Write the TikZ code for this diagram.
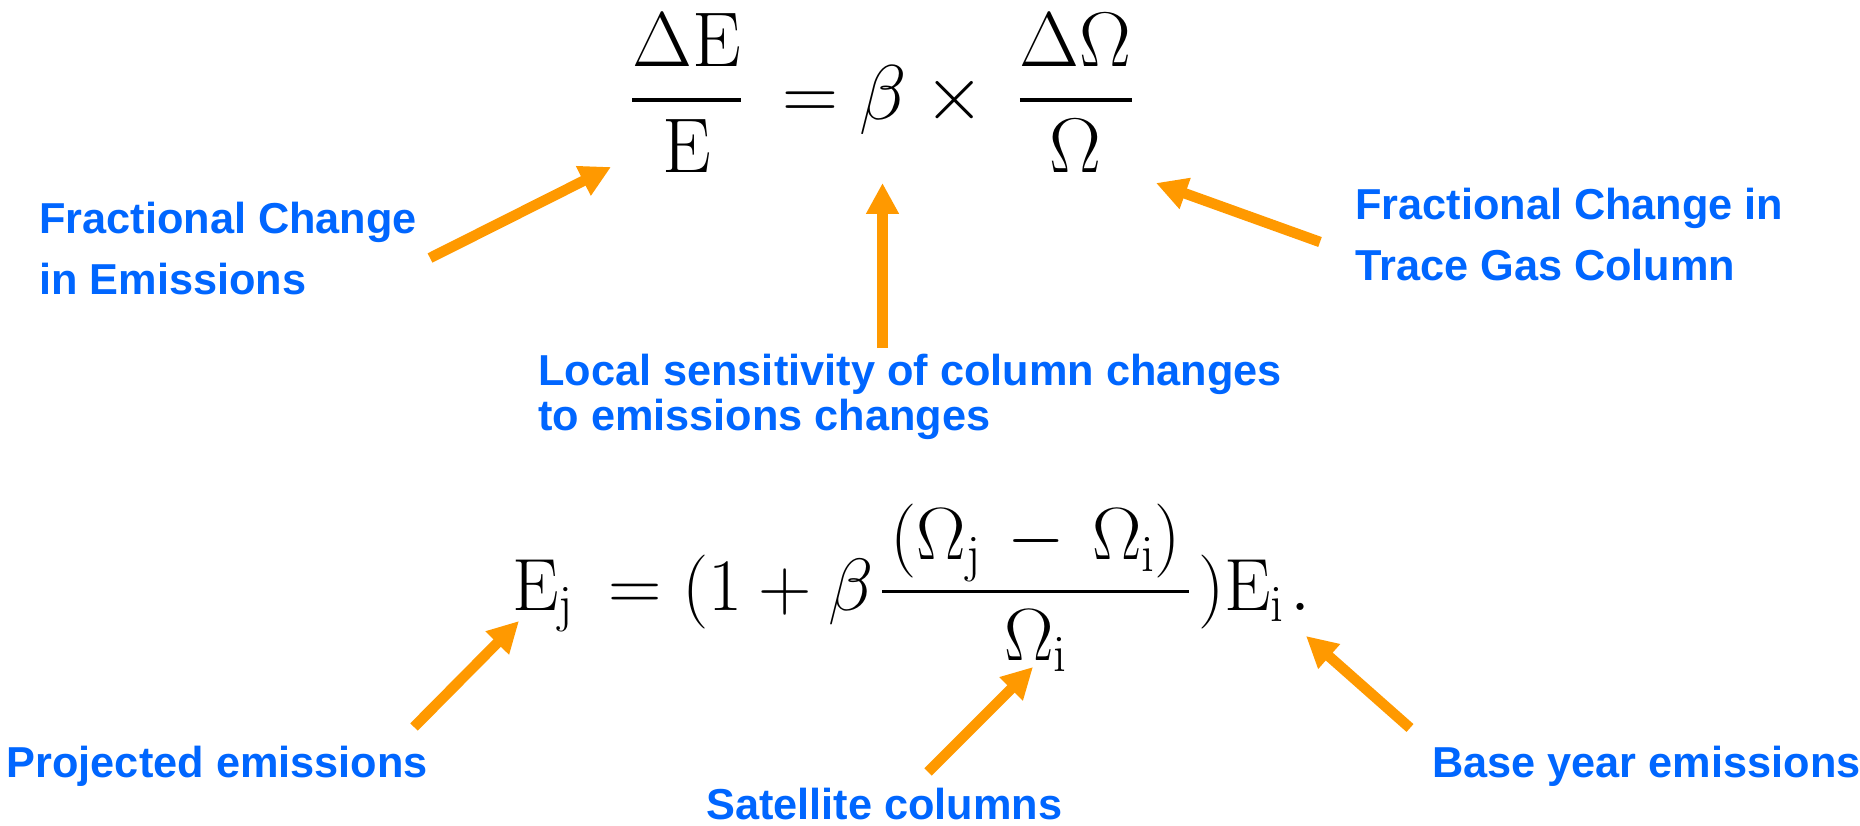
\RequirePackage{fix-cm}
\documentclass[tikz,border=0pt]{standalone}
\usepackage[no-math]{fontspec}
\DeclareFontShape{OMX}{cmex}{m}{n}{<-> cmex10}{}
\newfontfamily\labfont{Liberation Sans}
\usetikzlibrary{arrows.meta}
\definecolor{arrorange}{RGB}{255,153,0}
\definecolor{labblue}{RGB}{0,102,255}
\begin{document}
\begin{tikzpicture}[x=1pt,y=-1pt,
  lab/.style={font=\labfont\bfseries\fontsize{43.3}{61}\selectfont, text=labblue, inner sep=0pt, anchor=base west},
  eqn/.style={inner sep=0pt, anchor=base west},
  arr/.style={draw=arrorange, line width=10.5pt, -{Triangle[length=31pt,width=31pt]}}]
\useasboundingbox (0,0) rectangle (1860,826);

% equations
\node[eqn, font=\fontsize{77.6}{90}\selectfont] (eqtop) at (622.7,119.4)
  {$\displaystyle \nulldelimiterspace=0.12em \frac{\Delta\mathrm{E}}{\mathrm{E}}\mkern2.5mu = \beta \times \mkern2mu\frac{\Delta\Omega}{\Omega}$};
\node[eqn, font=\fontsize{74}{90}\selectfont] (eqbot) at (512,610)
  {$\displaystyle \nulldelimiterspace=0.12em \mathrm{E}_{\mathrm{j}}\mkern3.5mu = (1+\beta\frac{\mkern2mu(\Omega_{\mathrm{j}}\mkern2.5mu-\mkern2.5mu\Omega_{\mathrm{i}})\mkern2mu}{\Omega_{\mathrm{i}}})\mathrm{E}_{\mathrm{i}}\mkern1.5mu.$};

% labels
\node[lab] (fce) at (39,234) {\vtop{\hbox{Fractional Change}\hbox{in Emissions}}};
\node[lab] (fct) at (1355,220) {\vtop{\hbox{Fractional Change in}\hbox{Trace Gas Column}}};
\node[lab] (lsc) at (538,385) {\vtop{\baselineskip=45pt\hbox{Local sensitivity of column changes}\hbox{to emissions changes}}};
\node[lab] (pem) at (6.5,777) {Projected emissions};
\node[lab, text depth=0pt] (sat) at (706,819) {Satellite columns};
\node[lab] (bye) at (1432,777) {Base year emissions};

% arrow end points
\coordinate (fceT) at (430,258);   \coordinate (fceH) at (611,167);
\coordinate (lscT) at (882.5,348); \coordinate (lscH) at (882.5,183);
\coordinate (fctT) at (1320,242);  \coordinate (fctH) at (1156,183);
\coordinate (pemT) at (414,727);   \coordinate (pemH) at (519,621);
\coordinate (satT) at (928,772);   \coordinate (satH) at (1033,667);
\coordinate (byeT) at (1410,728);  \coordinate (byeH) at (1306,636);

\draw[arr] (fceT) -- (fceH);
\draw[arr] (lscT) -- (lscH);
\draw[arr] (fctT) -- (fctH);
\draw[arr] (pemT) -- (pemH);
\draw[arr] (satT) -- (satH);
\draw[arr] (byeT) -- (byeH);
\end{tikzpicture}
\end{document}
